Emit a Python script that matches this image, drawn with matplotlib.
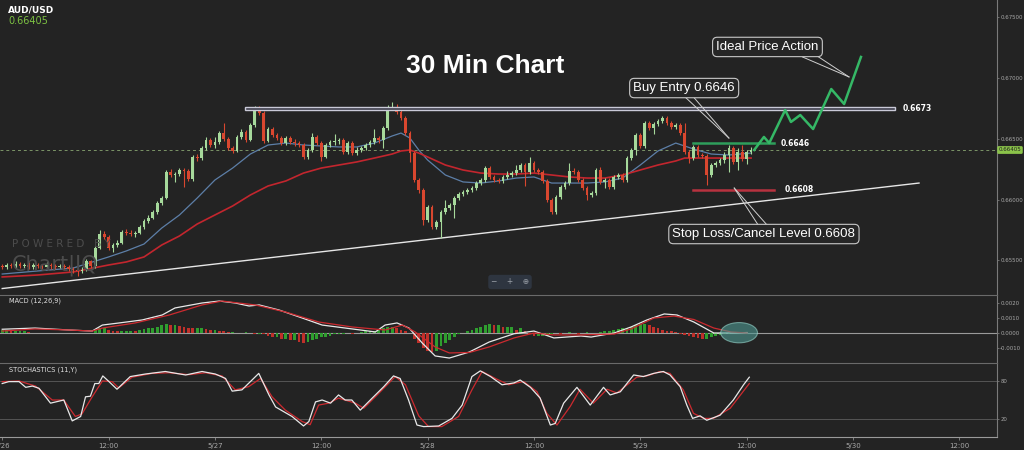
import numpy as np
import matplotlib.pyplot as plt
from matplotlib.patches import Rectangle, Ellipse

# AUD/USD, 30 minute bars counted from 5/26 00:00
first_open = 0.65455
closes = [
    0.65447, 0.65463, 0.65455, 0.65471, 0.65455, 0.65463, 0.65447, 0.65463, 0.65455, 0.65447,
    0.65463, 0.65455, 0.65447, 0.65455, 0.65447, 0.65430, 0.65422, 0.65414, 0.65422, 0.65496,
    0.65455, 0.65602, 0.65717, 0.65693, 0.65602, 0.65627, 0.65643, 0.65734, 0.65725, 0.65717,
    0.65725, 0.65775, 0.65824, 0.65848, 0.65898, 0.65971, 0.66012, 0.66226, 0.66201, 0.66209,
    0.66242, 0.66234, 0.66168, 0.66349, 0.66340, 0.66422, 0.66488, 0.66447, 0.66472, 0.66545,
    0.66496, 0.66422, 0.66398, 0.66513, 0.66554, 0.66488, 0.66611, 0.66750, 0.66709, 0.66480,
    0.66578, 0.66529, 0.66504, 0.66463, 0.66504, 0.66472, 0.66463, 0.66447, 0.66349, 0.66406,
    0.66513, 0.66463, 0.66349, 0.66447, 0.66472, 0.66480, 0.66488, 0.66390, 0.66463, 0.66381,
    0.66406, 0.66422, 0.66447, 0.66472, 0.66504, 0.66488, 0.66586, 0.66750, 0.66759, 0.66718,
    0.66668, 0.66545, 0.66381, 0.66160, 0.66078, 0.65832, 0.65939, 0.65775, 0.65816, 0.65898,
    0.65930, 0.65955, 0.66012, 0.66045, 0.66062, 0.66078, 0.66094, 0.66135, 0.66160, 0.66258,
    0.66185, 0.66160, 0.66152, 0.66185, 0.66201, 0.66217, 0.66242, 0.66283, 0.66226, 0.66299,
    0.66242, 0.66226, 0.66152, 0.65996, 0.65898, 0.66021, 0.66103, 0.66135, 0.66234, 0.66226,
    0.66160, 0.66094, 0.66037, 0.66053, 0.66242, 0.66144, 0.66160, 0.66103, 0.66185, 0.66201,
    0.66160, 0.66340, 0.66406, 0.66529, 0.66439, 0.66627, 0.66586, 0.66619, 0.66644, 0.66668,
    0.66627, 0.66595, 0.66611, 0.66545, 0.66390, 0.66340, 0.66431, 0.66365, 0.66357, 0.66201,
    0.66283, 0.66299, 0.66324, 0.66365, 0.66422, 0.66308, 0.66390, 0.66332, 0.66390, 0.66405,
]
highs = [
    0.65471, 0.65479, 0.65479, 0.65496, 0.65488, 0.65479, 0.65488, 0.65479, 0.65479, 0.65471,
    0.65488, 0.65479, 0.65471, 0.65471, 0.65471, 0.65463, 0.65447, 0.65438, 0.65447, 0.65512,
    0.65504, 0.65619, 0.65750, 0.65742, 0.65709, 0.65643, 0.65668, 0.65750, 0.65758, 0.65750,
    0.65742, 0.65791, 0.65840, 0.65873, 0.65914, 0.65988, 0.66029, 0.66242, 0.66250, 0.66226,
    0.66258, 0.66258, 0.66250, 0.66365, 0.66373, 0.66439, 0.66513, 0.66504, 0.66513, 0.66562,
    0.66627, 0.66513, 0.66439, 0.66529, 0.66578, 0.66570, 0.66627, 0.66767, 0.66767, 0.66726,
    0.66595, 0.66595, 0.66545, 0.66521, 0.66521, 0.66521, 0.66496, 0.66480, 0.66463, 0.66422,
    0.66545, 0.66529, 0.66480, 0.66463, 0.66488, 0.66537, 0.66504, 0.66504, 0.66480, 0.66480,
    0.66431, 0.66439, 0.66463, 0.66488, 0.66578, 0.66521, 0.66603, 0.66775, 0.66800, 0.66783,
    0.66734, 0.66685, 0.66562, 0.66398, 0.66176, 0.66094, 0.65955, 0.65955, 0.65832, 0.65914,
    0.65996, 0.65971, 0.66029, 0.66062, 0.66078, 0.66094, 0.66111, 0.66152, 0.66176, 0.66275,
    0.66275, 0.66201, 0.66176, 0.66201, 0.66234, 0.66234, 0.66283, 0.66299, 0.66299, 0.66349,
    0.66316, 0.66258, 0.66242, 0.66168, 0.66012, 0.66037, 0.66119, 0.66152, 0.66299, 0.66258,
    0.66242, 0.66176, 0.66111, 0.66070, 0.66258, 0.66267, 0.66176, 0.66176, 0.66201, 0.66217,
    0.66217, 0.66357, 0.66422, 0.66545, 0.66545, 0.66644, 0.66644, 0.66636, 0.66660, 0.66685,
    0.66685, 0.66644, 0.66627, 0.66627, 0.66627, 0.66406, 0.66447, 0.66447, 0.66381, 0.66373,
    0.66299, 0.66316, 0.66340, 0.66390, 0.66447, 0.66439, 0.66422, 0.66447, 0.66406, 0.66431,
]
lows = [
    0.65430, 0.65430, 0.65438, 0.65438, 0.65438, 0.65438, 0.65430, 0.65430, 0.65438, 0.65422,
    0.65438, 0.65430, 0.65430, 0.65438, 0.65422, 0.65414, 0.65397, 0.65373, 0.65397, 0.65414,
    0.65438, 0.65438, 0.65594, 0.65676, 0.65586, 0.65570, 0.65611, 0.65635, 0.65709, 0.65701,
    0.65693, 0.65717, 0.65758, 0.65807, 0.65840, 0.65881, 0.65955, 0.66004, 0.66185, 0.66144,
    0.66193, 0.66103, 0.66152, 0.66152, 0.66316, 0.66324, 0.66406, 0.66431, 0.66422, 0.66455,
    0.66480, 0.66406, 0.66381, 0.66390, 0.66496, 0.66472, 0.66480, 0.66595, 0.66693, 0.66463,
    0.66472, 0.66513, 0.66488, 0.66447, 0.66447, 0.66455, 0.66439, 0.66431, 0.66332, 0.66332,
    0.66390, 0.66447, 0.66316, 0.66340, 0.66431, 0.66447, 0.66455, 0.66373, 0.66373, 0.66365,
    0.66365, 0.66390, 0.66406, 0.66431, 0.66455, 0.66463, 0.66422, 0.66570, 0.66734, 0.66701,
    0.66652, 0.66529, 0.66308, 0.66144, 0.66053, 0.65791, 0.65816, 0.65758, 0.65758, 0.65684,
    0.65881, 0.65914, 0.65848, 0.65996, 0.66029, 0.66045, 0.66062, 0.66078, 0.66119, 0.66144,
    0.66168, 0.66144, 0.66135, 0.66135, 0.66168, 0.66185, 0.66201, 0.66226, 0.66111, 0.66209,
    0.66226, 0.66209, 0.66135, 0.65980, 0.65881, 0.65881, 0.66004, 0.66086, 0.66119, 0.66209,
    0.66144, 0.66078, 0.65996, 0.66021, 0.66037, 0.66127, 0.66094, 0.66086, 0.66086, 0.66168,
    0.66144, 0.66144, 0.66324, 0.66365, 0.66422, 0.66422, 0.66570, 0.66537, 0.66603, 0.66627,
    0.66611, 0.66578, 0.66578, 0.66529, 0.66373, 0.66299, 0.66324, 0.66349, 0.66340, 0.66119,
    0.66185, 0.66267, 0.66283, 0.66299, 0.66226, 0.66291, 0.66242, 0.66316, 0.66291, 0.66373,
]

# moving averages read at these bars
ma_bars = [0, 8, 16, 24, 28, 32, 36, 40, 44, 48, 52, 56, 60, 64, 68, 72, 76, 80, 84, 88, 90, 92,
           94, 96, 100, 104, 108, 112, 116, 120, 124, 128, 132, 136, 140, 144, 148, 152, 154,
           156, 160, 164, 169]
ma_fast = [0.65389, 0.65414, 0.65438, 0.65529, 0.65578, 0.65635, 0.65766, 0.65873, 0.66012,
           0.66160, 0.66258, 0.66373, 0.66447, 0.66463, 0.66447, 0.66439, 0.66431, 0.66431,
           0.66463, 0.66521, 0.66545, 0.66504, 0.66406, 0.66324, 0.66201, 0.66144, 0.66135,
           0.66152, 0.66176, 0.66185, 0.66135, 0.66135, 0.66135, 0.66144, 0.66176, 0.66283,
           0.66398, 0.66463, 0.66439, 0.66414, 0.66373, 0.66365, 0.66381]
ma_slow = [0.65365, 0.65381, 0.65406, 0.65463, 0.65488, 0.65529, 0.65627, 0.65701, 0.65799,
           0.65873, 0.65947, 0.66037, 0.66111, 0.66152, 0.66217, 0.66258, 0.66283, 0.66308,
           0.66340, 0.66373, 0.66398, 0.66406, 0.66381, 0.66349, 0.66283, 0.66242, 0.66217,
           0.66209, 0.66209, 0.66217, 0.66201, 0.66185, 0.66176, 0.66176, 0.66201, 0.66242,
           0.66283, 0.66316, 0.66340, 0.66340, 0.66340, 0.66340, 0.66340]

# MACD (12,26,9)
macd_bars = [0, 7.4, 15.1, 20.3, 22.6, 26.4, 31.6, 36.1, 39, 45.1, 49, 52.6, 55.7, 58, 62.5,
             67.7, 72.2, 79, 84.2, 86.4, 89.1, 91.8, 94.8, 97.7, 100.9, 105.4, 109.9, 115.5,
             120, 124.5, 130.6, 132.9, 138.1, 141.9, 145.5, 149.4, 152.3, 156.1, 160.6, 164.5,
             168.1]
macd_vals = [0.00025, 0.00033, 0.0002, 0.00013, 0.00053, 0.00067, 0.00087, 0.0012, 0.00167,
             0.002, 0.00213, 0.002, 0.0018, 0.00187, 0.00153, 0.001, 0.00053, 0.00027, 0.00007,
             0.00053, 0.00067, 0.00033, -0.00067, -0.00153, -0.00167, -0.00127, -0.0006,
             -0.00005, 0.00013, -0.00033, -0.0002, -0.00027, 0.0, 0.0004, 0.00087, 0.00127,
             0.0012, 0.00073, 0.0, 0.0, 0.00003]
signal_bars = [0, 7.4, 15.1, 20.3, 22.6, 30, 37.7, 45.1, 49.6, 57.1, 63.9, 71.5, 79, 86.4,
               90.3, 93.2, 97.7, 100.9, 105.4, 109.9, 115.5, 120, 124.5, 130.6, 138.1, 141.9,
               147.1, 151.6, 156.1, 160.6, 164.5, 168.1]
signal_vals = [0.00013, 0.00027, 0.0002, 0.00013, 0.00033, 0.00067, 0.0012, 0.00187, 0.00213,
               0.00187, 0.0014, 0.00073, 0.0004, 0.0002, 0.00053, 0.00007, -0.00093, -0.00133,
               -0.0013, -0.00093, -0.00033, 0.0, -0.00013, -0.00013, -0.00007, 0.00027, 0.001,
               0.00113, 0.0009, 0.00033, 0.00007, 0.0]
hist_vals = [
    0.0002, 0.0002, 0.0001, 0.0001, 0.0001, 0.0001, 0.00005, 0.00003, 0.00002, 0.00003,
    0.00002, 0.00003, 0.00002, 0.00003, 0.00002, 0.00001, 0.00002, 0.00001, 0.00002, 0.00001,
    0.00002, 0.0002, 0.0003, 0.0003, 0.0002, 0.00015, 0.0001, 0.0001, 0.0001, 0.00015,
    0.0001, 0.0002, 0.00025, 0.0003, 0.0003, 0.0004, 0.0005, 0.0006, 0.0005, 0.0005,
    0.00045, 0.0004, 0.00035, 0.0003, 0.0003, 0.0003, 0.00025, 0.0002, 0.0002, 0.00015,
    0.0001, 0.00005, 0.00005, 0.0, 0.0, 0.00005, 0.0, -0.00005, -0.00005, -0.0001,
    -0.0002, -0.0003, -0.0003, -0.0004, -0.0004, -0.0005, -0.0005, -0.0006, -0.0007, -0.0006,
    -0.0005, -0.0004, -0.0003, -0.0003, -0.0002, -0.0001, -0.0001, -0.0001, 0.0, -0.0001,
    0.0, 0.00005, 0.0001, 0.0001, 0.0001, 0.0002, 0.0003, 0.0004, 0.0004, 0.0003,
    0.0002, 0.0001, 0.0, -0.0004, -0.0007, -0.001, -0.0012, -0.0013, -0.0012, -0.0009,
    -0.0007, -0.0005, -0.0003, -0.0001, 0.0, 0.0001, 0.0002, 0.0003, 0.0004, 0.0005,
    0.0006, 0.0005, 0.0005, 0.0004, 0.0004, 0.0004, 0.0002, 0.0003, 0.0001, -0.0001,
    -0.0002, -0.0002, -0.0002, -0.0002, -0.0001, 0.0, -0.00005, 0.0, 0.00005, 0.0,
    -0.00005, 0.0, 0.00005, 0.0, 0.0, 0.00005, 0.0001, 0.00015, 0.0002, 0.00025,
    0.0003, 0.0003, 0.0004, 0.0005, 0.0006, 0.0006, 0.0005, 0.0004, 0.0003, 0.0002,
    0.00015, 0.0001, 0.00005, -0.0001, -0.00015, -0.0002, -0.0003, -0.00035, -0.0004, -0.0004,
    -0.0003, -0.0002, -0.00015, -0.0001, -0.00005, -0.00003, 0.00002, 0.00003, 0.00002, 0.00003,
]

# Stochastics (11,Y)
k_bars = [0, 1.5, 3.8, 5.3, 6.8, 8.3, 10.9, 13.9, 15.8, 17.7, 18.8, 19.9, 20.9, 21.8, 22.7,
          24.1, 25.9, 28.9, 32.3, 36.8, 41.4, 45.1, 48.1, 50.4, 51.9, 54.1, 57.9, 60.2, 61.7,
          65.4, 68, 69.2, 70.7, 72.2, 74.1, 75.9, 77.4, 78.9, 80.8, 83.5, 86.1, 88.3, 89.8,
          91.7, 93.6, 95.1, 98.5, 101.5, 103.8, 106, 107.9, 110.2, 112.8, 115.5, 116.9, 119.2,
          121.4, 123.7, 124.8, 126.7, 129.7, 132.7, 135.7, 137.2, 139.5, 142.5, 144.7, 147,
          149.2, 150.7, 153, 154.5, 155.8, 157.5, 159, 162, 165, 167.3, 168.6]
k_vals = [76, 79, 79, 70, 72, 68.5, 45, 50, 17, 24, 55, 56, 76, 76, 88, 79, 67, 87, 91, 95,
          89.5, 95, 91, 84, 64, 66, 92, 58, 39, 24, 9, 16, 47, 50, 45, 58, 50, 50, 34, 53, 71,
          88, 84, 50, 10.5, 8, 9, 21, 42, 87, 96, 87, 74, 77, 81.5, 70, 53, 10.5, 13, 45, 70,
          42, 70, 58, 63, 89.5, 87, 92, 95, 89.5, 71, 42, 21, 25, 18, 26, 50, 74, 86]
d_bars = [0, 3.8, 7.5, 11.3, 13.9, 16.5, 18, 20.3, 22.6, 24.8, 26.3, 29.3, 33.8, 37.6, 42.1,
          45.9, 49.6, 52.6, 55.6, 58.3, 60.9, 63.9, 67.7, 69.5, 71.4, 73.7, 75.9, 79.7, 81.6,
          84.2, 88.7, 91, 94, 96.2, 99.2, 103, 106, 108.3, 111.3, 114.3, 115.4, 117.7, 120.7,
          122.9, 125.2, 128.2, 130.4, 133.4, 136.5, 138.7, 143.2, 145.5, 148.5, 150.7, 153.7,
          156, 158.3, 160.5, 164.3, 168.6]
d_vals = [79, 80, 72, 50, 50, 24, 28, 55, 80, 79, 69, 86, 92, 93, 90, 93, 88, 66, 71, 84, 55,
          34, 16, 11, 42, 45, 53, 45, 37, 55, 87, 74, 25, 8, 8, 24, 66, 95, 84, 74, 76, 79, 63,
          29, 10.5, 40, 67, 45, 67, 61, 86, 88, 95, 92, 66, 29, 21, 21, 37, 76]

# drawn projection and levels
ideal_bars = [169.7, 171.9, 173.1, 176.7, 178.0, 180.1, 183.0, 187.1, 190.0, 193.8]
ideal_prices = [0.66406, 0.66513, 0.66463, 0.66734, 0.66636, 0.66693, 0.66578, 0.66906,
                0.66783, 0.67169]
trend_bars = [0, 206.9]
trend_prices = [0.65270, 0.66135]
resistance = 0.6673
entry = 0.6646
stop = 0.6608
last_price = 0.66405

tick_bars = [0, 24, 48, 72, 96, 120, 144, 168, 192, 216]
tick_labels = ["5/26", "12:00", "5/27", "12:00", "5/28", "12:00", "5/29", "12:00", "5/30", "12:00"]
price_ticks = [0.655, 0.660, 0.665, 0.670, 0.675]
macd_ticks = [-0.001, 0.0, 0.001, 0.002]
stoch_ticks = [20, 80]

BG = "#232323"
GREEN = "#a6d99b"
RED = "#d9472f"
GRID = "#555555"
LABEL = "#a8a8a8"
W, H = 1024, 450
NARROW = ["Liberation Sans Narrow", "Liberation Sans", "DejaVu Sans"]


def rect(x0, y0, x1, y1):
    return [x0 / W, 1 - y1 / H, (x1 - x0) / W, (y1 - y0) / H]


def style(a):
    a.set_facecolor(BG)
    for s in ["left", "top", "bottom"]:
        a.spines[s].set_visible(False)
    a.spines["right"].set_color("#7a7a7a")
    a.spines["right"].set_linewidth(0.8)
    a.yaxis.tick_right()
    a.tick_params(axis="y", colors="#7a7a7a", labelcolor=LABEL, labelsize=3.9,
                  length=1.5, width=0.6, pad=0.8)
    a.tick_params(axis="x", bottom=False, labelbottom=False)


fig = plt.figure(figsize=(W / 100, H / 100), dpi=100)
fig.patch.set_facecolor(BG)

ax = fig.add_axes(rect(0, 0, 997, 295))
ax_m = fig.add_axes(rect(0, 295, 997, 363), sharex=ax)
ax_s = fig.add_axes(rect(0, 363, 997, 437), sharex=ax)
for a in (ax, ax_m, ax_s):
    style(a)

# ---- price panel ----
x = np.arange(len(closes))
opens = np.array([first_open] + closes[:-1])
c = np.array(closes)
up = c >= opens
cols = np.where(up, GREEN, RED)
body_lo = np.minimum(opens, c)
body_h = np.maximum(np.abs(c - opens), 0.00003)
ax.vlines(x, lows, highs, colors=cols, lw=0.8, zorder=3)
ax.bar(x, body_h, bottom=body_lo, width=0.62, color=cols, zorder=4, linewidth=0)

ax.plot(ma_bars, ma_fast, color="#5d7fa8", lw=0.9, zorder=2)
ax.plot(ma_bars, ma_slow, color="#c3262e", lw=1.2, zorder=2)

ax.plot(trend_bars, trend_prices, color="#e6e6e6", lw=1.0, zorder=2)
ax.axhline(last_price, color="#7b9467", lw=0.7, ls=(0, (3, 3)), zorder=1)

ax.add_patch(Rectangle((54.8, resistance), 146.7, 0.0003, fc="#3a3a48", ec="#cacad8",
                       lw=1.0, zorder=5))
ax.text(203.2, resistance + 0.00015, "0.6673", color="white", fontsize=5.5,
        fontweight="bold", va="center", ha="left")
ax.plot([155.9, 174.2], [entry, entry], color="#2e9e5b", lw=1.8, zorder=5)
ax.text(175.6, entry, "0.6646", color="white", fontsize=5.5, fontweight="bold",
        va="center", ha="left")
ax.plot([155.9, 174.2], [stop, stop], color="#b8323f", lw=1.8, zorder=5)
ax.text(176.5, stop, "0.6608", color="white", fontsize=5.5, fontweight="bold",
        va="center", ha="left")

ax.plot(ideal_bars, ideal_prices, color="#35b866", lw=1.8, zorder=6)

box = dict(boxstyle="round,pad=0.28,rounding_size=0.35", fc="#262626", ec="#c8c8c8", lw=0.8)
ax.text(172.7, 0.67251, "Ideal Price Action", color="white", fontsize=9.5, family=NARROW,
        ha="center", va="center", bbox=box, zorder=8)
ax.text(153.9, 0.66914, "Buy Entry 0.6646", color="white", fontsize=9.5, family=NARROW,
        ha="center", va="center", bbox=box, zorder=8)
ax.text(171.9, 0.65717, "Stop Loss/Cancel Level 0.6608", color="white", fontsize=9.5,
        family=NARROW, ha="center", va="center", bbox=box, zorder=8)

pointers = [
    ((180.6, 0.67169), (182.9, 0.67201), (191.1, 0.67005)),
    ((154.1, 0.66841), (155.8, 0.66849), (164.0, 0.66504)),
    ((170.6, 0.65791), (172.6, 0.65791), (165.2, 0.66094)),
]
for p1, p2, tip in pointers:
    for p in (p1, p2):
        ax.plot([p[0], tip[0]], [p[1], tip[1]], color="#d0d0d0", lw=0.7, zorder=7)

ax.set_ylim(0.65217, 0.67636)
ax.set_yticks(price_ticks)
ax.set_yticklabels(["%.5f" % v for v in price_ticks])

ax.text(109.0, 0.67095, "30 Min Chart", color="white", fontsize=19, fontweight="bold",
        family=["Liberation Sans", "DejaVu Sans"], ha="center", va="center")

# ---- MACD panel ----
hv = np.array(hist_vals)
hcol = ["#2f9e2f" if i == 0 or hv[i] >= hv[i - 1] else "#c0302a" for i in range(len(hv))]
ax_m.bar(x, hv, width=0.62, color=hcol, linewidth=0, zorder=2)
ax_m.axhline(0, color="#9a9a9a", lw=0.8, zorder=1)
ax_m.plot(macd_bars, macd_vals, color="#e8e8e8", lw=0.9, zorder=3)
ax_m.plot(signal_bars, signal_vals, color="#cc2a2f", lw=0.9, zorder=3)
ax_m.add_patch(Ellipse((166.3, 0.00002), 8.3, 0.00135, fc="#4f9b94", ec="#97d6cc",
                       lw=0.8, alpha=0.6, zorder=4))
ax_m.spines["top"].set_visible(True)
ax_m.spines["top"].set_color("#6a6a6a")
ax_m.set_ylim(-0.002, 0.002533)
ax_m.set_yticks(macd_ticks)
ax_m.set_yticklabels(["%.4f" % v for v in macd_ticks])
ax_m.text(1.5, 0.00215, "MACD (12,26,9)", color="#e0e0e0", fontsize=4.8, va="center")

# ---- Stochastics panel ----
for lvl in stoch_ticks:
    ax_s.axhline(lvl, color=GRID, lw=0.7, zorder=1)
ax_s.plot(d_bars, d_vals, color="#cc2a2f", lw=0.9, zorder=2)
ax_s.plot(k_bars, k_vals, color="#e8e8e8", lw=0.9, zorder=3)
ax_s.spines["top"].set_visible(True)
ax_s.spines["top"].set_color("#6a6a6a")
ax_s.spines["bottom"].set_visible(True)
ax_s.spines["bottom"].set_color("#9a9a9a")
ax_s.set_ylim(-8.4, 108.4)
ax_s.set_yticks(stoch_ticks)
ax_s.set_yticklabels([str(v) for v in stoch_ticks])
ax_s.text(1.5, 98, "STOCHASTICS (11,Y)", color="#e0e0e0", fontsize=4.8, va="center")
ax_s.set_xticks(tick_bars)
ax_s.set_xticklabels(tick_labels)
ax_s.tick_params(axis="x", bottom=True, labelbottom=True, colors="#8a8a8a",
                 labelcolor=LABEL, labelsize=5, length=2.5, width=0.6, pad=1.5)
ax.set_xlim(-0.5, 224.5)

# ---- overlay texts ----
fig.text(8 / W, 1 - 10 / H, "AUD/USD", color="white", fontsize=6.5, fontweight="bold",
         va="center")
fig.text(8 / W, 1 - 21 / H, "0.66405", color="#7cc142", fontsize=7, va="center")
fig.text(1010 / W, 1 - 150 / H, "0.66405", color="#1f1f1f", fontsize=4.0, ha="center",
         va="center", bbox=dict(boxstyle="round,pad=0.25", fc="#8bc34a", ec="none"))
fig.text(12 / W, 1 - 244 / H, "P O W E R E D   B Y", color="#4c4c4c", fontsize=7.5,
         va="center")
fig.text(12 / W, 1 - 265 / H, "Chart|IQ", color="#4c4c4c", fontsize=15, va="center")
fig.text(510 / W, 1 - 282 / H, "\u2212    +    \u2295", color="#9aa0a8", fontsize=5.5,
         ha="center", va="center",
         bbox=dict(boxstyle="round,pad=0.35", fc="#2e3540", ec="none"))

fig.savefig("out.png", dpi=100, facecolor=BG)
